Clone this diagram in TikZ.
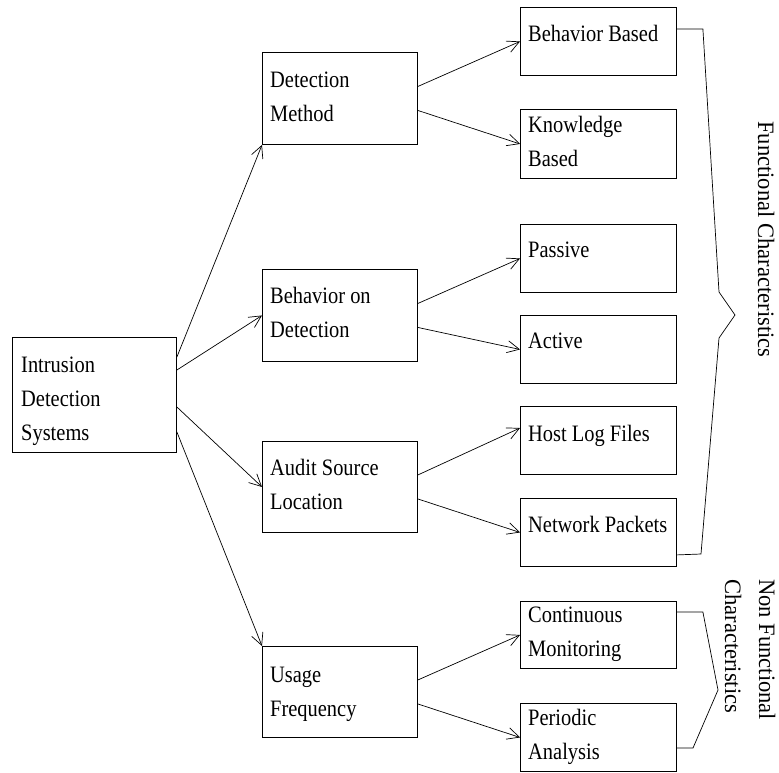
\documentclass[tikz,border=0pt]{standalone}
\usepackage{fontspec}
\setmainfont[FakeStretch=0.87]{Liberation Serif}
\newfontfamily\grouplabelfont[FakeStretch=0.96]{Liberation Serif}
\usetikzlibrary{calc,arrows.meta}

\begin{document}
\begin{tikzpicture}[x=1pt,y=-1pt,
  box/.style={draw=black,line width=0.9pt,rectangle,inner sep=0pt,anchor=north west},
  midbox/.style={box,minimum width=155pt,minimum height=92pt},
  leafbox/.style={box,minimum width=156pt,minimum height=68pt},
  txt/.style={anchor=base west,inner sep=0pt,font=\fontsize{23.5}{34}\selectfont},
  grouptxt/.style={txt,rotate=-90,font=\grouplabelfont\fontsize{23.5}{34}\selectfont},
  arr/.style={line width=0.7pt,-{Straight Barb[length=12pt,width=12pt,line width=0.7pt]}},
  brace/.style={line width=0.7pt,line join=miter}]

\useasboundingbox (0,0) rectangle (779,772);

% root
\node[box,minimum width=164pt,minimum height=115pt] (ids) at (12,337) {};
\node[txt] (idst) at ($(ids.north west)+(9,35)$)
  {\begin{tabular}[t]{@{}l@{}}Intrusion\\Detection\\Systems\end{tabular}};

% second level
\node[midbox] (dm)  at (262,52)  {};
\node[midbox] (bod) at (262,269) {};
\node[midbox,minimum height=91pt] (asl) at (262,441) {};
\node[midbox,minimum height=91pt] (uf)  at (262,646) {};

\node[txt] (dmt)  at ($(dm.north west)+(8,35)$)  {\begin{tabular}[t]{@{}l@{}}Detection\\Method\end{tabular}};
\node[txt] (bodt) at ($(bod.north west)+(8,34)$) {\begin{tabular}[t]{@{}l@{}}Behavior on\\Detection\end{tabular}};
\node[txt] (aslt) at ($(asl.north west)+(8,34)$) {\begin{tabular}[t]{@{}l@{}}Audit Source\\Location\end{tabular}};
\node[txt] (uft)  at ($(uf.north west)+(8,36)$)  {\begin{tabular}[t]{@{}l@{}}Usage\\Frequency\end{tabular}};

% leaves
\node[leafbox] (bb) at (520,7)   {};
\node[leafbox,minimum height=69pt] (kb) at (520,109) {};
\node[leafbox] (pa) at (520,224) {};
\node[leafbox] (ac) at (520,315) {};
\node[leafbox] (hl) at (520,406) {};
\node[leafbox] (np) at (520,498) {};
\node[leafbox,minimum height=67pt] (cm) at (520,601) {};
\node[leafbox] (pd) at (520,703) {};

\node[txt] (bbt) at ($(bb.north west)+(8,34)$) {Behavior Based};
\node[txt] (kbt) at ($(kb.north west)+(8,23)$) {\begin{tabular}[t]{@{}l@{}}Knowledge\\Based\end{tabular}};
\node[txt] (pat) at ($(pa.north west)+(8,33)$) {Passive};
\node[txt] (act) at ($(ac.north west)+(8,33)$) {Active};
\node[txt] (hlt) at ($(hl.north west)+(8,35)$) {Host Log Files};
\node[txt] (npt) at ($(np.north west)+(8,34)$) {Network Packets};
\node[txt] (cmt) at ($(cm.north west)+(8,21)$) {\begin{tabular}[t]{@{}l@{}}Continuous\\Monitoring\end{tabular}};
\node[txt] (pdt) at ($(pd.north west)+(8,22)$) {\begin{tabular}[t]{@{}l@{}}Periodic\\Analysis\end{tabular}};

% root to second level
\draw[arr] ($(ids.north east)+(0,20)$) -- (dm.south west);
\draw[arr] ($(ids.north east)+(0,33)$) -- (bod.west);
\draw[arr] ($(ids.north east)+(0,70)$) -- (asl.west);
\draw[arr] ($(ids.north east)+(0,95)$) -- (uf.north west);

% second level to leaves
\draw[arr] ($(dm.east)+(0,-12)$)  -- (bb.west);
\draw[arr] ($(dm.east)+(0,12)$)   -- (kb.west);
\draw[arr] ($(bod.east)+(0,-12)$) -- (pa.west);
\draw[arr] ($(bod.east)+(0,12)$)  -- (ac.west);
\draw[arr] ($(asl.east)+(0,-12)$) -- ($(hl.north west)+(0,22)$);
\draw[arr] ($(asl.east)+(0,12)$)  -- (np.west);
\draw[arr] ($(uf.east)+(0,-12)$)  -- (cm.west);
\draw[arr] ($(uf.east)+(0,12)$)   -- (pd.west);

% braces
\coordinate (ftop) at ($(bb.north east)+(0,22)$);
\coordinate (fbot) at ($(np.south east)+(0,-12)$);
\draw[brace] (ftop) -- ++(26,0) -- (719,292) -- (735,315) -- (719,338) -- (701,554) -- (fbot);

\coordinate (ntop) at ($(cm.north east)+(0,11)$);
\coordinate (nbot) at ($(pd.north east)+(0,45)$);
\draw[brace] (ntop) -- ++(26,0) -- (718,690) -- (693,748) -- (nbot);

% group labels
\node[grouptxt] (func) at (758,121) {Functional Characteristics};
\node[grouptxt] (nfunc) at (759,579)
  {\begin{tabular}[t]{@{}l@{}}Non Functional\\Characteristics\end{tabular}};
\end{tikzpicture}
\end{document}
